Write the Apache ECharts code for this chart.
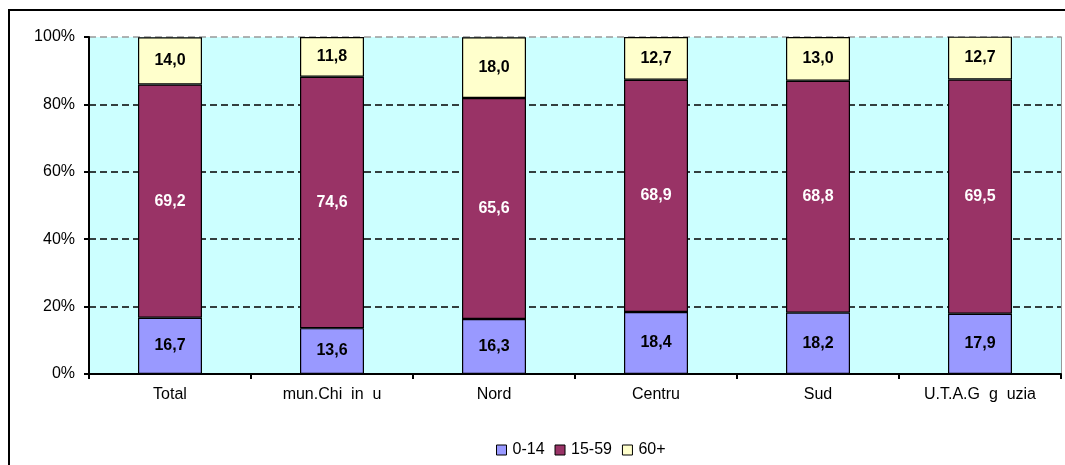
<!DOCTYPE html>
<html><head><meta charset="utf-8">
<script src="https://cdn.jsdelivr.net/npm/echarts@6/dist/echarts.min.js"></script>
<style>html,body{margin:0;padding:0;background:#fff}#c{width:1065px;height:465px}</style>
</head><body><div id="c"></div>
<script>
const categories = ['Total', 'mun.Chi  in  u', 'Nord', 'Centru', 'Sud', 'U.T.A.G  g  uzia'];
const age0_14 = [16.7, 13.6, 16.3, 18.4, 18.2, 17.9];
const age15_59 = [69.2, 74.6, 65.6, 68.9, 68.8, 69.5];
const age60 = [14.0, 11.8, 18.0, 12.7, 13.0, 12.7];
const yTicks = [0, 20, 40, 60, 80, 100];

const FONT = 'Liberation Sans, Arial, sans-serif';
const fmt = p => p.value.toFixed(1).replace('.', ',');
function mk(name, data, color, labelColor) {
  return {
    name, type: 'bar', stack: 'a', data, barWidth: 64,
    itemStyle: { color, borderColor: '#000', borderWidth: 1.2 },
    label: { show: true, position: 'inside', formatter: fmt, color: labelColor,
      fontFamily: FONT, fontWeight: 'bold', fontSize: 16 },
    emphasis: { disabled: true }
  };
}
const chart = echarts.init(document.getElementById('c'), null, { renderer: 'canvas' });
chart.setOption({
  animation: false,
  textStyle: { fontFamily: FONT },
  grid: { left: 89, right: 4, top: 37, bottom: 91, show: true, backgroundColor: '#CCFFFF', borderWidth: 0 },
  graphic: [{ type: 'rect', shape: { x: 9, y: 10, width: 1200, height: 600 },
    style: { fill: 'none', stroke: '#000', lineWidth: 2 }, z: 100 }],
  legend: {
    left: 491, top: 437, itemWidth: 10, itemHeight: 10, itemGap: 10,
    icon: 'rect',
    itemStyle: { borderColor: '#000', borderWidth: 1 },
    textStyle: { fontFamily: FONT, fontSize: 16, color: '#000', padding: [0, 0, 0, 1] },
    data: ['0-14', '15-59', '60+']
  },
  xAxis: {
    type: 'category', data: categories,
    axisLine: { lineStyle: { color: '#000', width: 2 } },
    axisTick: { show: true, length: 5, lineStyle: { color: '#000', width: 2 } },
    axisLabel: { color: '#000', fontSize: 16, margin: 13, fontFamily: FONT }
  },
  yAxis: [{
    type: 'value', min: 0, max: 100, interval: 20,
    axisLine: { show: true, lineStyle: { color: '#000', width: 2 } },
    axisTick: { show: true, length: 5, lineStyle: { color: '#000', width: 2 } },
    axisLabel: { color: '#000', fontSize: 16, margin: 14, fontFamily: FONT,
      formatter: v => yTicks.includes(v) ? v + '%' : '' },
    splitLine: { show: true, lineStyle: { color: ['#000', '#000', '#000', '#000', '#000', '#999'], type: [7, 4], width: 1.5 } }
  }, {
    type: 'value', min: 0, max: 100, interval: 20, position: 'right',
    axisLine: { show: true, lineStyle: { color: '#999', width: 1 } },
    axisTick: { show: false }, axisLabel: { show: false }, splitLine: { show: false }
  }],
  series: [
    mk('0-14', age0_14, '#9999FF', '#000'),
    mk('15-59', age15_59, '#993366', '#fff'),
    mk('60+', age60, '#FFFFCC', '#000')
  ]
});
</script></body></html>
